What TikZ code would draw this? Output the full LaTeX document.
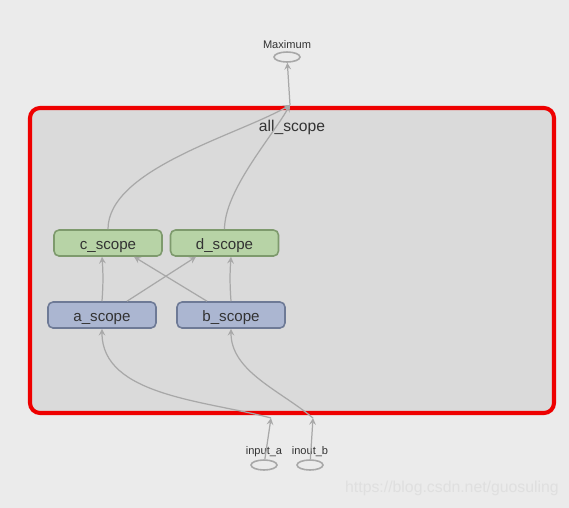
\documentclass[tikz,border=0pt]{standalone}
\usepackage{fontspec}
\setmainfont{Liberation Sans}
\usepackage{tikz}
\usetikzlibrary{arrows, positioning, shapes.geometric}
\definecolor{bggray}{HTML}{EBEBEB}
\definecolor{scopegray}{HTML}{DADADA}
\definecolor{edgegray}{HTML}{A8A8A8}
\definecolor{greenfill}{HTML}{B7D3A6}
\definecolor{greendraw}{HTML}{7E9A6D}
\definecolor{bluefill}{HTML}{ABB6D1}
\definecolor{bluedraw}{HTML}{6E7A96}
\definecolor{textgray}{HTML}{333333}
\definecolor{boxred}{HTML}{EE0000}
\tikzstyle{arrow} = [line width=0.7pt, draw=edgegray, ->, >=stealth]
\tikzstyle{scopebox} = [rectangle, rounded corners=0.1cm, minimum width=2.16cm, minimum height=0.52cm, text centered, text height=1.5ex, text depth=0pt, line width=0.9pt, text=textgray, font=\fontsize{8.6}{10}\selectfont]
\tikzstyle{opnode} = [ellipse, draw=edgegray, line width=0.9pt, minimum width=0.52cm, minimum height=0.2cm, inner sep=0pt]
\tikzstyle{oplabel} = [text=textgray, font=\fontsize{6.3}{7}\selectfont]

\begin{document}
\begin{tikzpicture}[x=0.02cm, y=-0.02cm]
    % Hintergrund
    \useasboundingbox (0,0) rectangle (569,508);
    \fill[bggray] (0,0) rectangle (569,508);

    % all_scope
    \draw[boxred, fill=scopegray, line width=2.3pt, rounded corners=0.2cm] (30,108) rectangle (554,413);
    \node (all) [text=textgray, font=\fontsize{8.9}{10}\selectfont] at (292,127) {all\_scope};

    % Scopes
    \node (c) [scopebox, fill=greenfill, draw=greendraw] at (108,243) {c\_scope};
    \node (d) [scopebox, fill=greenfill, draw=greendraw] at (224.5,243) {d\_scope};
    \node (a) [scopebox, fill=bluefill, draw=bluedraw] at (102,315) {a\_scope};
    \node (b) [scopebox, fill=bluefill, draw=bluedraw] at (231,315) {b\_scope};

    % Ops
    \node (max) [opnode] at (287,57) {};
    \node [oplabel, above=-2pt of max] {Maximum};
    \node (ina) [opnode] at (264,465) {};
    \node [oplabel, above=-2pt of ina] {input\_a};
    \node (inb) [opnode] at (310,465) {};
    \node [oplabel, above=-2pt of inb] {inout\_b};

    % Rand von all_scope
    \coordinate (outmax) at (290,105);
    \coordinate (entera) at (271,418);
    \coordinate (enterb) at (313,418);

    % Flechas
    \draw [arrow] (ina) -- (entera);
    \draw [arrow] (inb) -- (enterb);
    \draw [arrow] (entera) to[out=165, in=-90, looseness=0.9] (a.south);
    \draw [arrow] (enterb) to[out=140, in=-90, looseness=0.9] (b.south);
    \draw [arrow] (a.north) to[bend right=4] (c.south -| a.north);
    \draw [arrow] (b.north) to[bend left=4] (d.south -| b.north);
    \draw [arrow] ([xshift=0.5cm]a.north) -- ([xshift=-0.57cm]d.south);
    \draw [arrow] ([xshift=-0.48cm]b.north) -- ([xshift=0.52cm]c.south);
    \draw [arrow] (c.north) to[out=90, in=-150, looseness=0.7] (outmax);
    \draw [arrow] (d.north) to[out=90, in=-120, looseness=0.7] (outmax);
    \draw [arrow] (outmax) -- (max);

    % Wasserzeichen
    \node [text=white!75!gray, font=\fontsize{9}{10}\selectfont] at (452,488) {https://blog.csdn.net/guosuling};
\end{tikzpicture}
\end{document}
